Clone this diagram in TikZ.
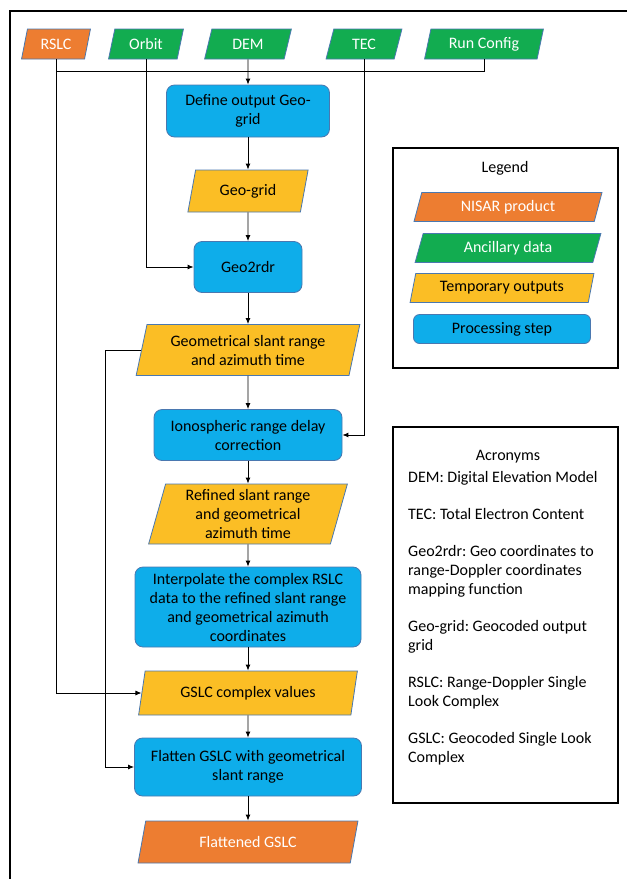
\documentclass[tikz,border=0pt]{standalone}
\usepackage{fontspec}
\setmainfont{Carlito}
\usetikzlibrary{arrows.meta, positioning, shapes.geometric, calc}
\frenchspacing

\definecolor{nisarorange}{HTML}{ED7D31}
\definecolor{ancilgreen}{HTML}{12AC50}
\definecolor{tempyellow}{HTML}{FBBE25}
\definecolor{procblue}{HTML}{0EADEA}
\definecolor{shapeedge}{HTML}{4A78B0}

\begin{document}
\begin{tikzpicture}[x=1pt, y=-1pt, node distance=80pt, on grid, >={Latex[length=6pt,width=5pt]}]
    \tikzstyle{every node}=[font=\fontsize{16}{19}\selectfont]
    \tikzstyle{data}=[trapezium, trapezium left angle=76, trapezium right angle=104, trapezium stretches=true, draw=shapeedge, line width=0.8pt, inner sep=2pt, align=center]
    \tikzstyle{product}=[data, fill=nisarorange, text=white]
    \tikzstyle{ancillary}=[data, fill=ancilgreen, text=white]
    \tikzstyle{tempout}=[data, fill=tempyellow]
    \tikzstyle{procstep}=[rectangle, rounded corners=8pt, draw=shapeedge, line width=0.8pt, fill=procblue, inner sep=2pt, align=center]
    \tikzstyle{panel}=[draw, line width=1.2pt]
    \tikzstyle{link}=[line width=0.9pt]

    \useasboundingbox (0,0) rectangle (627,879);
    % outer frame, cut by the page
    \draw[line width=1.6pt] (10,879) -- (10,11) -- (627,11);

    % inputs
    \node[product, minimum width=69pt, minimum height=30pt] (rslc) at (56,44) {RSLC};
    \node[ancillary, minimum width=75pt, minimum height=30pt] (orbit) at (146,44) {Orbit};
    \node[ancillary, minimum width=87pt, minimum height=30pt] (dem) at (248,44) {DEM};
    \node[ancillary, minimum width=76pt, minimum height=30pt] (tec) at (364,44) {TEC};
    \node[ancillary, minimum width=119pt, minimum height=30pt] (runcfg) at (484,44) {Run Config};
    \coordinate (bus) at (56,71);

    % processing chain
    \node[procstep, minimum width=163pt, minimum height=52pt] (defgrid) at (248,111) {Define output Geo-\\grid};
    \node[tempout, minimum width=121pt, minimum height=42pt, below=80pt of defgrid] (geogrid) {Geo-grid};
    \node[procstep, minimum width=108pt, minimum height=51pt, below=76pt of geogrid] (geo2rdr) {Geo2rdr};
    \node[tempout, minimum width=224pt, minimum height=51pt, below=83pt of geo2rdr] (geomsr) {Geometrical slant range\\and azimuth time};
    \node[procstep, minimum width=188pt, minimum height=51pt, below=85pt of geomsr] (iono) {Ionospheric range delay\\correction};
    \node[tempout, minimum width=199pt, minimum height=60pt, below=79pt of iono] (refined) {Refined slant range\\and geometrical\\azimuth time};
    \node[procstep, minimum width=226pt, minimum height=80pt, below=93pt of refined] (interp) {Interpolate the complex RSLC\\data to the refined slant range\\and geometrical azimuth\\coordinates};
    \node[tempout, minimum width=219pt, minimum height=44pt, below=86pt of interp] (gslccv) {GSLC complex values};
    \node[procstep, minimum width=227pt, minimum height=58pt, below=74pt of gslccv] (flatten) {Flatten GSLC with geometrical\\slant range};
    \node[product, minimum width=220pt, minimum height=42pt, below=75pt of flatten] (flatgslc) {Flattened GSLC};
    \coordinate (geombend) at (105,350);

    % legend
    \node[panel, minimum width=225pt, minimum height=220pt] (legend) at (505.5,258) {};
    \node (legendtitle) at (505,168) {Legend};
    \node[product, minimum width=188pt, minimum height=29pt] (lg_nisar) at (508,207) {NISAR product};
    \node[ancillary, minimum width=186pt, minimum height=29pt] (lg_anc) at (508,248) {Ancillary data};
    \node[tempout, minimum width=184pt, minimum height=29pt] (lg_temp) at (502,288) {Temporary outputs};
    \node[procstep, minimum width=177pt, minimum height=29pt, rounded corners=6pt] (lg_proc) at (502,329) {Processing step};

    % acronyms
    \node[panel, minimum width=225pt, minimum height=376pt] (acro) at (505.5,615) {};
    \node (acrotitle) at (508,457) {Acronyms};
    \node[anchor=north west, align=left, inner sep=0pt] (acrotext) at (408,471) {DEM: Digital Elevation Model\\[18pt]
        TEC: Total Electron Content\\[18pt]
        Geo2rdr: Geo coordinates to\\range-Doppler coordinates\\mapping function\\[18pt]
        Geo-grid: Geocoded output\\grid\\[18pt]
        RSLC: Range-Doppler Single\\Look Complex\\[18pt]
        GSLC: Geocoded Single Look\\Complex};

    \draw[link] (runcfg.south) |- (bus);
    \draw[link, ->] (rslc.south) |- (gslccv.west);
    \draw[link, ->] (orbit.south) |- (geo2rdr.west);
    \draw[link, ->] (tec.south) |- (iono.east);
    \draw[link, ->] (geomsr.west) -- (geombend) |- (flatten.west);

    \path[link, ->]
    (dem) edge (defgrid)
    (defgrid) edge (geogrid)
    (geogrid) edge (geo2rdr)
    (geo2rdr) edge (geomsr)
    (geomsr) edge (iono)
    (iono) edge (refined)
    (refined) edge (interp)
    (interp) edge (gslccv)
    (gslccv) edge (flatten)
    (flatten) edge (flatgslc);
\end{tikzpicture}
\end{document}
